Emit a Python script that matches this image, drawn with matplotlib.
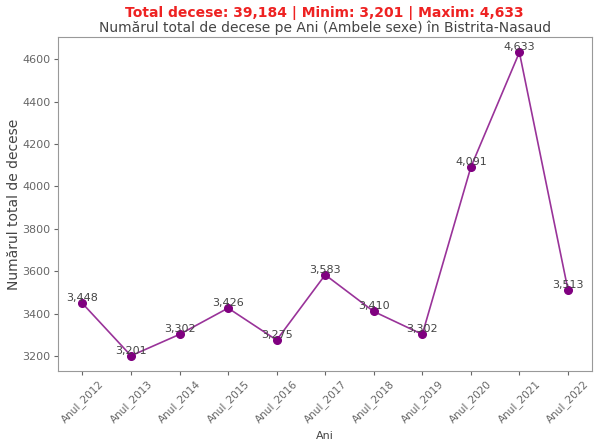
import matplotlib
matplotlib.use("Agg")
import matplotlib.pyplot as plt
import seaborn as sns

years = ["Anul_2012", "Anul_2013", "Anul_2014", "Anul_2015", "Anul_2016", "Anul_2017",
         "Anul_2018", "Anul_2019", "Anul_2020", "Anul_2021", "Anul_2022"]
deaths = [3448, 3201, 3302, 3426, 3275, 3583, 3410, 3302, 4091, 4633, 3513]

sns.set_style("ticks")
plt.rcParams['font.family'] = ['DejaVu Sans']

fig, ax = plt.subplots(figsize=(6, 4.48), dpi=100)
fig.subplots_adjust(left=0.097, right=0.987, top=0.917, bottom=0.172)

x = list(range(len(years)))
ax.plot(x, deaths, color="#800080", alpha=0.8, linewidth=1.2)
ax.plot(x, deaths, "o", color="#800080", markersize=5.5, linestyle="none")
for xi, v in zip(x, deaths):
    ax.text(xi, v, f"{v:,}", ha="center", va="bottom", fontsize=8, color="#444444")

ax.set_xticks(x)
ax.set_xticklabels(years, rotation=45, fontsize=7.5, color="#444444")
ax.tick_params(axis="y", labelsize=8, labelcolor="#444444")
ax.tick_params(colors="#666666", length=3, pad=2.5)
for s in ax.spines.values():
    s.set_color("#999999")
ax.set_xlabel("Ani", fontsize=8, color="#444444", labelpad=4)
ax.set_ylabel("Numărul total de decese", fontsize=10, color="#444444")
ax.yaxis.set_label_coords(-0.07, 0.5)
ax.set_title("Numărul total de decese pe Ani (Ambele sexe) în Bistrita-Nasaud",
             fontsize=10, color="#444444", pad=4)
total = sum(deaths)
fig.text(0.54, 0.972, f"Total decese: {total:,} | Minim: {min(deaths):,} | Maxim: {max(deaths):,}",
         ha="center", va="center", fontsize=10, fontweight="bold", color="#ee2222")

fig.savefig("out.png", dpi=100)
